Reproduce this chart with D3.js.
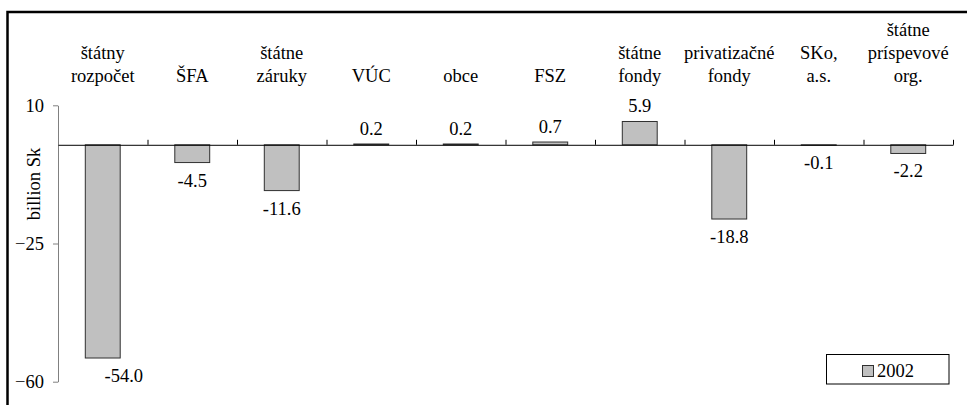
<!DOCTYPE html>
<html>
<head>
<meta charset="utf-8">
<script src="https://cdn.jsdelivr.net/npm/d3@7"></script>
<style>
  html, body { margin: 0; padding: 0; background: #fff; }
  svg { display: block; }
</style>
</head>
<body>
<svg id="chart" width="967" height="405"></svg>
<script>
const categories = [
  ["štátny", "rozpočet"],
  ["ŠFA"],
  ["štátne", "záruky"],
  ["VÚC"],
  ["obce"],
  ["FSZ"],
  ["štátne", "fondy"],
  ["privatizačné", "fondy"],
  ["SKo,", "a.s."],
  ["štátne", "príspevové", "org."]
];
const values2002 = [-54.0, -4.5, -11.6, 0.2, 0.2, 0.7, 5.9, -18.8, -0.1, -2.2];
const valueLabels = ["-54.0", "-4.5", "-11.6", "0.2", "0.2", "0.7", "5.9", "-18.8", "-0.1", "-2.2"];
const yTicks = [10, -25, -60];
const seriesName = "2002";
const yTitle = "billion Sk";

const FONT = "'Liberation Serif', 'Times New Roman', serif";
const FS = "18.5px";
const svg = d3.select("#chart");

// outer frame
svg.append("rect")
  .attr("x", 7.5).attr("y", 12)
  .attr("width", 1000).attr("height", 500)
  .attr("fill", "none").attr("stroke", "#000").attr("stroke-width", 2.5);

const y = d3.scaleLinear().domain([-60, 10]).range([381.7, 105.3]);
const keys = categories.map((c, i) => i);
const x = d3.scaleBand().domain(keys).range([58, 953]).padding(0);
const xIdx = d3.scaleLinear().domain([0, categories.length]).range([58, 953]);
const barW = x.bandwidth() * 0.39;

// bars
svg.append("g").selectAll("rect")
  .data(values2002)
  .join("rect")
  .attr("x", (d, i) => x(i) + (x.bandwidth() - barW) / 2)
  .attr("y", d => y(Math.max(0, d)))
  .attr("width", barW)
  .attr("height", d => Math.abs(y(d) - y(0)))
  .attr("fill", "#c0c0c0")
  .attr("stroke", "#303030")
  .attr("stroke-width", 1);

// y axis
const yAxis = svg.append("g")
  .attr("transform", "translate(58,0)")
  .call(d3.axisLeft(y).tickValues(yTicks).tickSize(5).tickSizeOuter(0).tickPadding(9));
yAxis.select(".domain").attr("stroke", "#808080");
yAxis.selectAll(".tick line").attr("stroke", "#808080");
yAxis.selectAll(".tick text")
  .style("font-family", FONT)
  .style("font-size", FS)
  .attr("fill", "#000");

// x axis (zero line with category boundary ticks pointing up)
const xAxis = svg.append("g")
  .attr("transform", `translate(0,${y(0)})`)
  .call(d3.axisTop(xIdx).tickValues(d3.range(1, categories.length + 1)).tickSize(5).tickSizeOuter(0).tickFormat(""));
xAxis.select(".domain").attr("stroke", "#000");
xAxis.selectAll(".tick line").attr("stroke", "#000");

// category labels at top (bottom-aligned)
const catG = svg.append("g");
categories.forEach((lines, i) => {
  const cx = x(i) + x.bandwidth() / 2;
  const t = catG.append("text")
    .attr("text-anchor", "middle")
    .style("font-family", FONT)
    .style("font-size", FS)
    .attr("x", cx);
  lines.forEach((ln, j) => {
    t.append("tspan")
      .attr("x", cx)
      .attr("y", 82 - (lines.length - 1 - j) * 23)
      .text(ln);
  });
});

// value labels
svg.append("g").selectAll("text")
  .data(values2002)
  .join("text")
  .attr("text-anchor", "middle")
  .style("font-family", FONT)
  .style("font-size", FS)
  .attr("x", (d, i) => x(i) + x.bandwidth() / 2 + (i === 0 ? 21 : 0))
  .attr("y", d => d >= 0 ? y(d) - 9 : y(d) + 24)
  .text((d, i) => valueLabels[i]);

// y title
svg.append("text")
  .attr("transform", "translate(40,184) rotate(-90)")
  .attr("text-anchor", "middle")
  .style("font-family", FONT)
  .style("font-size", FS)
  .text(yTitle);

// legend
const lg = svg.append("g");
lg.append("rect")
  .attr("x", 826.5).attr("y", 354.5)
  .attr("width", 122.5).attr("height", 29.5)
  .attr("fill", "#fff").attr("stroke", "#000").attr("stroke-width", 1);
lg.append("rect")
  .attr("x", 862.5).attr("y", 365.5)
  .attr("width", 11).attr("height", 11)
  .attr("fill", "#c0c0c0").attr("stroke", "#303030").attr("stroke-width", 1);
lg.append("text")
  .attr("x", 877).attr("y", 376.5)
  .style("font-family", FONT)
  .style("font-size", FS)
  .text(seriesName);
</script>
</body>
</html>
